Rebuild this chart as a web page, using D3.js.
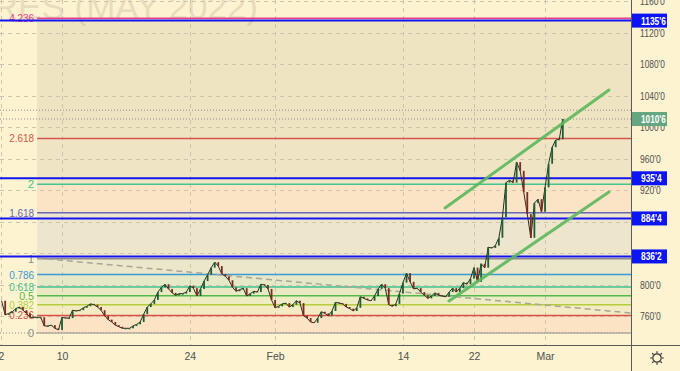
<!DOCTYPE html>
<html>
<head>
<meta charset="utf-8">
<script src="https://cdn.jsdelivr.net/npm/d3@7"></script>
<style>
  body { margin: 0; background: #fdf3d0; }
  svg { display: block; font-family: "Liberation Sans", Arial, sans-serif; }
</style>
</head>
<body>
<script>
// - Wheat futures (May 2022), fib extension -

// Data

// closes sampled every quarter trading day, day 0 = Jan 10
const closes = [
  780, 762, 764, 766, 770, 772, 768, 764, 759, 759,
  759, 759, 748, 748, 749, 745, 743, 759, 758, 758,
  768, 767, 768, 771, 773, 776, 775, 772, 768, 761,
  756, 753, 749, 747, 745, 745, 745, 748, 750, 753,
  763, 772, 776, 781, 791, 797, 801, 795, 790, 787,
  789, 789, 791, 799, 796, 786, 795, 805, 813, 822,
  829, 824, 814, 811, 806, 797, 792, 794, 796, 786,
  789, 792, 791, 801, 800, 795, 781, 771, 773, 776,
  777, 772, 775, 780, 777, 761, 758, 753, 752, 758,
  766, 764, 761, 767, 778, 777, 776, 772, 770, 767,
  771, 785, 783, 781, 780, 786, 795, 801, 796, 775,
  773, 776, 789, 803, 815, 804, 795, 796, 791, 787,
  783, 786, 790, 787, 786, 785, 791, 796, 791, 796,
  803, 801, 808, 822, 804, 827, 822, 848, 847, 850,
  860, 886, 930, 933, 930, 956, 945, 918, 890, 860,
  904, 909, 893, 924, 954, 975, 984, 985, 1010.75
];
const seriesStartDay = -4.25, seriesStep = 0.25;

const priceTicks = [760, 800, 840, 880, 920, 960, 1000, 1040, 1080, 1120, 1160];
const dateLabels = ["2", "10", "24", "Feb", "14", "22", "Mar"];
const dateDays   = [-4.3, 0, 9, 15, 24, 29, 34];

const fibLevels = [0, 0.236, 0.382, 0.5, 0.618, 0.786, 1, 1.618, 2, 2.618, 4.236];
const fibLow = 739, fibHigh = 833.4, fibStartDay = -1.75;

const levelPrices = [1135.75, 935.5, 884.5, 836.25];
const levelLabels = ["1135'6", "935'4", "884'4", "836'2"];
const lastPrice = 1010.75, lastLabel = "1010'6";
const highPrice = 1022;

const trendDays = [-1.76, 40.05], trendPrices = [834.3, 764.4];
const chanUpDays = [26.96, 38.5], chanUpPrices = [897.8, 1047.6];
const chanLoDays = [27.24, 38.5], chanLoPrices = [779.7, 918.1];

// Chart size

const w = 680, h = 371, plotW = 631, plotH = 345;

const fibLineColor = ["#8c8c8c", "#dc5048", "#b4cd3c", "#55b94a", "#3fc08f", "#3b9bd8",
                      "#8c8c8c", "#6767b8", "#46c48e", "#d6564b", "#e6408c"];
const fibZoneColor = ["#fce3c4", "#f4eac3", "#eeecc3", "#e9eac4", "#e6e9c8",
                      "#ece6ca", "#eee5cd", "#fbe3c6", "#efe5c4", "#efe4c2"];

const svg = d3.select("body")
              .append("svg")
              .attr("width", w)
              .attr("height", h);

const x = d3.scaleLinear().domain([-4.364, 40.05]).range([0, plotW]);
const y = d3.scaleLinear().domain([723.8, 1161.9]).range([plotH, 0]);
const fibPrice = l => fibLow + (fibHigh - fibLow) * l;
const narrow = s => s.length * 4.15;   // axis font is condensed

svg.append("defs").append("clipPath").attr("id", "plot")
   .append("rect").attr("width", plotW).attr("height", plotH);

svg.append("rect").attr("width", w).attr("height", h).attr("fill", "#fdf3d0");

const plot = svg.append("g").attr("clip-path", "url(#plot)");

// Fib zones

plot.selectAll(".zone")
    .data(fibLevels.slice(0, -1))
    .enter()
    .append("rect")
    .attr("x", x(fibStartDay))
    .attr("width", plotW - x(fibStartDay))
    .attr("y", (d, i) => y(fibPrice(fibLevels[i + 1])))
    .attr("height", (d, i) => y(fibPrice(d)) - y(fibPrice(fibLevels[i + 1])))
    .attr("fill", (d, i) => fibZoneColor[i]);

// Watermark

plot.append("text")
    .attr("x", 258).attr("y", 19)
    .attr("text-anchor", "end")
    .attr("font-size", 35)
    .attr("fill", "#6f6650")
    .attr("opacity", 0.15)
    .text("WHEAT FUTURES (MAY 2022)");

// Grid

plot.selectAll(".hgrid")
    .data(priceTicks)
    .enter()
    .append("line")
    .attr("x1", 0).attr("x2", plotW)
    .attr("y1", d => Math.round(y(d)) + 0.5).attr("y2", d => Math.round(y(d)) + 0.5)
    .attr("stroke", "#cdc6ae").attr("stroke-dasharray", "4,4");

plot.selectAll(".vgrid")
    .data(dateDays)
    .enter()
    .append("line")
    .attr("x1", d => Math.round(x(d)) + 0.5).attr("x2", d => Math.round(x(d)) + 0.5)
    .attr("y1", 0).attr("y2", plotH)
    .attr("stroke", "#cdc6ae").attr("stroke-dasharray", "4,4");

// Fib levels

plot.selectAll(".fib")
    .data(fibLevels)
    .enter()
    .append("line")
    .attr("x1", x(fibStartDay)).attr("x2", plotW)
    .attr("y1", d => y(fibPrice(d))).attr("y2", d => y(fibPrice(d)))
    .attr("stroke", (d, i) => fibLineColor[i])
    .attr("stroke-width", 1.5)
    .attr("stroke-dasharray", d => d === 0 ? "1.5,1.5" : null);

plot.selectAll(".fibText")
    .data(fibLevels)
    .enter()
    .append("text")
    .attr("x", x(fibStartDay) - 3)
    .attr("y", d => y(fibPrice(d)) + 4)
    .attr("text-anchor", "end")
    .attr("font-size", 11.5)
    .attr("fill", (d, i) => fibLineColor[i])
    .attr("textLength", d => String(d).length === 1 ? null : String(d).length * 5)
    .attr("lengthAdjust", "spacingAndGlyphs")
    .text(d => d);

// Dashed trendline

plot.append("line")
    .attr("x1", x(trendDays[0])).attr("y1", y(trendPrices[0]))
    .attr("x2", x(trendDays[1])).attr("y2", y(trendPrices[1]))
    .attr("stroke", "#a9a598").attr("stroke-width", 1.5)
    .attr("stroke-dasharray", "6,4");

// Dotted price lines

plot.selectAll(".dots")
    .data([highPrice, lastPrice, fibLow])
    .enter()
    .append("line")
    .attr("x1", 0).attr("x2", plotW)
    .attr("y1", d => y(d)).attr("y2", d => y(d))
    .attr("stroke", "#8d8d8d").attr("stroke-dasharray", "1,2");

// Horizontal levels

plot.selectAll(".level")
    .data(levelPrices)
    .enter()
    .append("line")
    .attr("x1", 0).attr("x2", plotW)
    .attr("y1", d => y(d)).attr("y2", d => y(d))
    .attr("stroke", "#1414f0").attr("stroke-width", 2);

// Price series

const dayOf = i => seriesStartDay + i * seriesStep;

plot.append("path")
    .datum(closes)
    .attr("fill", "none")
    .attr("stroke", "#26301f")
    .attr("stroke-width", 1)
    .attr("d", d3.line().x((d, i) => x(dayOf(i))).y(d => y(d)));

plot.selectAll(".candle")
    .data(closes.slice(1))
    .enter()
    .append("rect")
    .attr("x", (d, i) => x(dayOf(i + 1)) - 0.9)
    .attr("width", 1.8)
    .attr("y", (d, i) => y(Math.max(d, closes[i])))
    .attr("height", (d, i) => Math.max(1, Math.abs(y(d) - y(closes[i]))))
    .attr("fill", (d, i) => d >= closes[i] ? "#1d5e34" : "#7e2a20");

// Channel

plot.selectAll(".chan")
    .data([[chanUpDays, chanUpPrices], [chanLoDays, chanLoPrices]])
    .enter()
    .append("line")
    .attr("x1", d => x(d[0][0])).attr("y1", d => y(d[1][0]))
    .attr("x2", d => x(d[0][1])).attr("y2", d => y(d[1][1]))
    .attr("stroke", "#5cb85c").attr("stroke-width", 3)
    .attr("stroke-linecap", "round").attr("opacity", 0.9);

// Axes (ticks hidden behind the level tags are left out)

const shownTicks = priceTicks.filter(v => levelPrices.every(p => Math.abs(y(v) - y(p)) > 6));

const yAxis = svg.append("g")
    .attr("transform", `translate(${plotW},0)`)
    .call(d3.axisRight(y).tickValues(shownTicks).tickFormat(d => d + "'0").tickSize(0).tickPadding(9));

const xAxis = svg.append("g")
    .attr("transform", `translate(0,${plotH})`)
    .call(d3.axisBottom(x).tickValues(dateDays).tickFormat((d, i) => dateLabels[i]).tickSize(0).tickPadding(8));

[yAxis, xAxis].forEach(a => {
  a.select(".domain").remove();
  a.selectAll("text").attr("font-size", 10.5).attr("fill", "#505050")
   .attr("font-family", "Liberation Sans, Arial, sans-serif");
});
yAxis.selectAll("text")
     .attr("textLength", function() { return narrow(this.textContent); })
     .attr("lengthAdjust", "spacingAndGlyphs");

svg.append("line").attr("x1", plotW + 0.5).attr("x2", plotW + 0.5).attr("y1", 0).attr("y2", h)
   .attr("stroke", "#5a5a5a");
svg.append("line").attr("x1", 0).attr("x2", w).attr("y1", plotH + 0.5).attr("y2", plotH + 0.5)
   .attr("stroke", "#5a5a5a");

// Price labels on axis

const tags = levelPrices.map((p, i) => ({ p: p, t: levelLabels[i], c: "#0a14f5" }))
                        .concat([{ p: lastPrice, t: lastLabel, c: "#64a67f" }]);

const tag = svg.selectAll(".tag")
               .data(tags)
               .enter()
               .append("g")
               .attr("transform", d => `translate(${plotW + 1},${y(d.p)})`);

tag.append("rect")
   .attr("x", 0).attr("y", -7)
   .attr("width", 35).attr("height", 14)
   .attr("fill", d => d.c);

tag.append("text")
   .attr("x", 9).attr("y", 4)
   .attr("font-size", 10.5)
   .attr("font-weight", "bold")
   .attr("fill", "#fff")
   .attr("textLength", d => narrow(d.t))
   .attr("lengthAdjust", "spacingAndGlyphs")
   .text(d => d.t);

// Settings icon

const gear = svg.append("g").attr("transform", "translate(657,358)")
                .attr("stroke", "#333").attr("fill", "none").attr("stroke-width", 1.2);
gear.append("circle").attr("r", 4.2);
gear.selectAll("line")
    .data(d3.range(8))
    .enter()
    .append("line")
    .attr("x1", d => 5 * Math.cos(d * Math.PI / 4)).attr("y1", d => 5 * Math.sin(d * Math.PI / 4))
    .attr("x2", d => 6.8 * Math.cos(d * Math.PI / 4)).attr("y2", d => 6.8 * Math.sin(d * Math.PI / 4));
</script>
</body>
</html>
